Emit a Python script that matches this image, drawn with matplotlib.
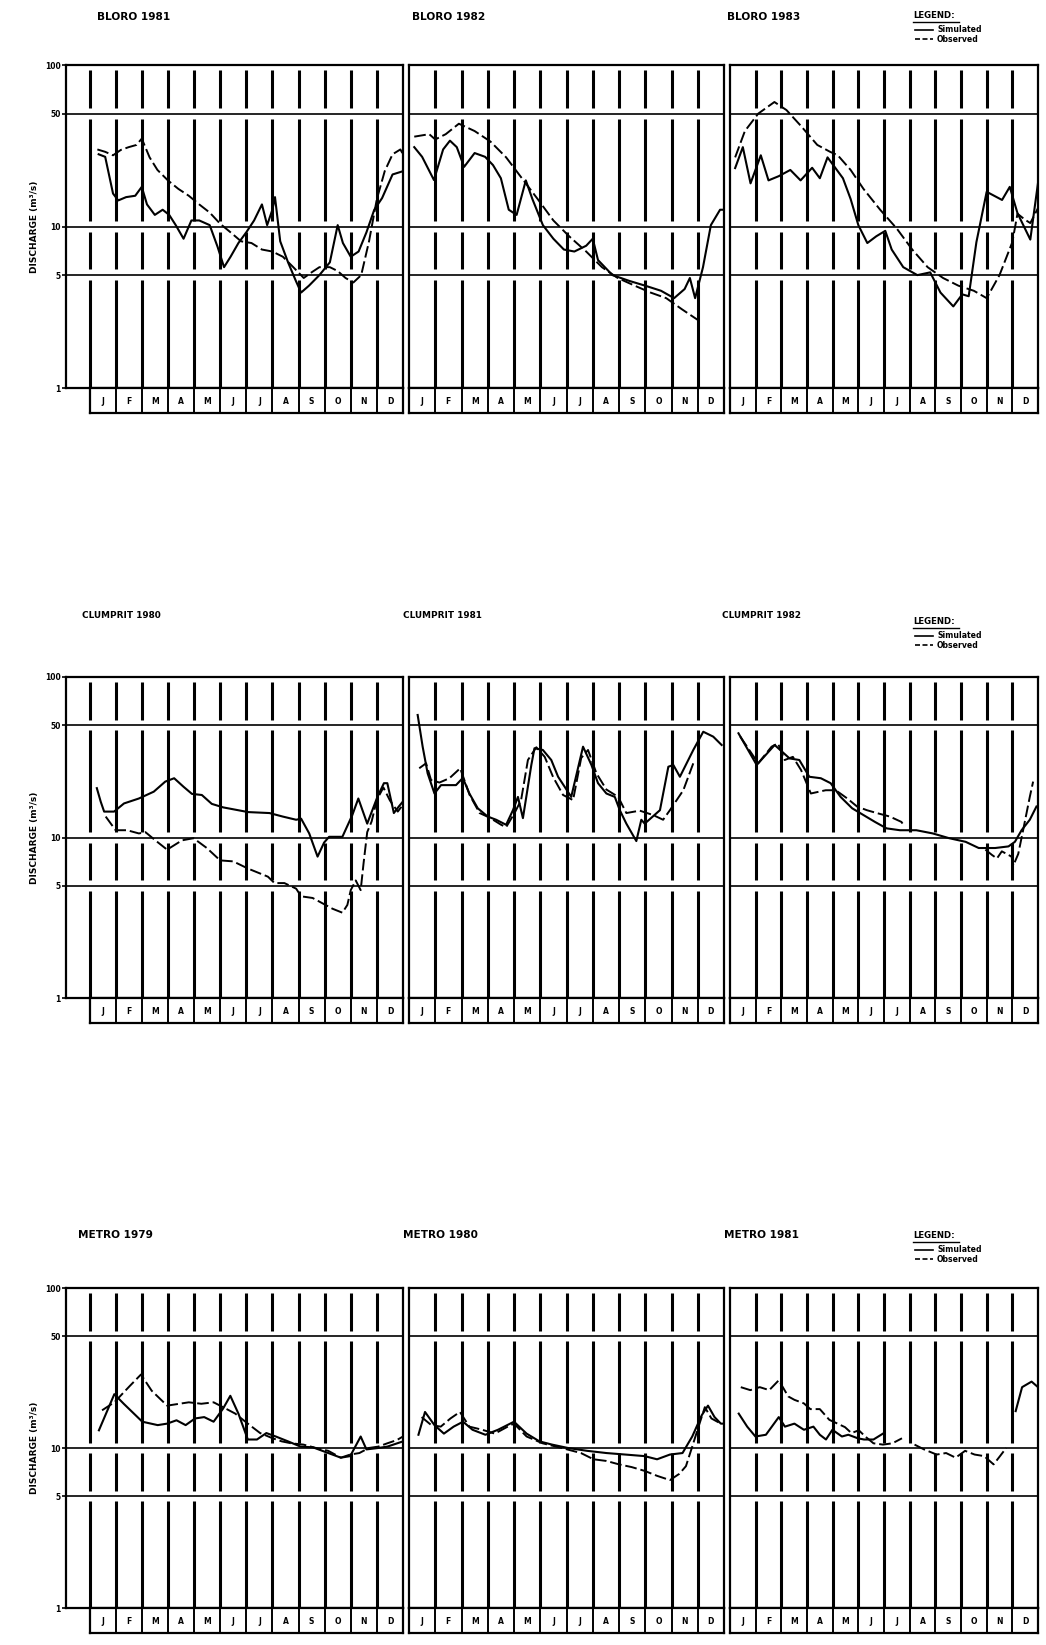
import numpy as np
import matplotlib
matplotlib.use("Agg")
import matplotlib.pyplot as plt
from matplotlib.lines import Line2D

W, H, DPI = 1046, 1645, 100

# ---------------- text / categories ----------------
months = ["J", "F", "M", "A", "M", "J", "J", "A", "S", "O", "N", "D"]
ytick_vals = [1, 5, 10, 50, 100]
ytick_labels = ["1", "5", "10", "50", "100"]
grid_vals = [5, 10, 50]
titles = [["BLORO 1981", "BLORO 1982", "BLORO 1983"],
          ["CLUMPRIT 1980", "CLUMPRIT 1981", "CLUMPRIT 1982"],
          ["METRO 1979", "METRO 1980", "METRO 1981"]]
legend_title = "LEGEND:"
legend_labels = ["Simulated", "Observed"]
ylabel = "DISCHARGE (m\u00b3/s)"
nan = float("nan")

# ---------------- data (t in months from 1 Jan, discharge in m3/s) ----------------
# BLORO 1981
b81_sim_t = [0.35, 0.6, 0.9, 1.1, 1.4, 1.75, 2.0, 2.2, 2.5, 2.8, 3.05, 3.3, 3.6, 3.9, 4.2, 4.6, 4.9, 5.15,
             5.4, 5.7, 6.0, 6.3, 6.6, 6.8, 7.0, 7.1, 7.3, 7.6, 7.9, 8.1, 8.4, 8.8, 9.2, 9.5, 9.7, 10.0,
             10.3, 10.6, 10.9, 11.2, 11.6, 12.0]
b81_sim_v = [28, 27, 16, 14.5, 15.2, 15.5, 17.6, 13.7, 11.8, 12.7, 11.8, 10.2, 8.4, 10.9, 10.9, 10.2, 7.5, 5.6,
             6.5, 7.9, 9.2, 10.9, 13.7, 10.2, 12.7, 15.2, 8.1, 6.0, 4.6, 3.9, 4.3, 5.0, 6.0, 10.2, 7.9, 6.5,
             7.0, 9.2, 12.7, 15, 21, 22]
b81_obs_t = [0.3, 0.6, 0.9, 1.2, 1.5, 1.8, 2.0, 2.3, 2.6, 3.0, 3.4, 3.8, 4.2, 4.6, 5.0, 5.4, 5.8, 6.2, 6.6,
             7.0, 7.4, 7.8, 8.2, 8.5, 8.8, 9.2, 9.5, 9.8, 10.1, 10.4, 10.7, 11.0, 11.3, 11.6, 11.9, 12.0]
b81_obs_v = [30, 29, 27.6, 29.8, 31, 32, 35, 26.8, 22.4, 19.3, 17.1, 15.5, 13.7, 12.2, 10.4, 9.2, 8.1, 7.9, 7.2,
             7.0, 6.5, 5.6, 4.8, 5.2, 5.6, 5.6, 5.3, 4.8, 4.5, 5.0, 8.1, 14.8, 22, 28, 30, 28]
# BLORO 1982
b82_sim_t = [0.2, 0.5, 0.95, 1.3, 1.56, 1.82, 2.1, 2.5, 2.9, 3.2, 3.5, 3.8, 4.1, 4.45, 4.7, 5.1, 5.5, 5.9,
             6.3, 6.75, 7.0, 7.2, 7.75, 8.4, 9.0, 9.6, 10.1, 10.5, 10.7, 10.9, 11.2, 11.5, 11.85, 12.0]
b82_sim_v = [31, 27, 19.4, 30, 34, 31, 23.4, 28.5, 27, 24, 19.9, 12.7, 11.8, 19.3, 14.8, 10.2, 8.4, 7.2,
             7.0, 7.6, 8.4, 6.2, 5.0, 4.6, 4.3, 4.0, 3.6, 4.1, 4.8, 3.6, 5.6, 10.2, 12.7, 12.7]
b82_obs_t = [0.2, 0.77, 1.0, 1.4, 1.9, 2.5, 3.1, 3.7, 4.3, 4.9, 5.5, 6.1, 6.75, 7.35, 7.95, 8.6, 9.2, 9.8,
             10.4, 11.0]
b82_obs_v = [36, 37.3, 34.6, 37.3, 43.3, 39, 33.6, 26.8, 19.9, 14.8, 10.9, 8.7, 7.0, 5.6, 4.8, 4.3, 3.9, 3.6,
             3.07, 2.64]
# BLORO 1983
b83_sim_t = [0.2, 0.5, 0.8, 1.2, 1.5, 1.9, 2.35, 2.75, 3.2, 3.5, 3.8, 4.1, 4.4, 4.7, 5.0, 5.35, 5.7, 6.05,
             6.3, 6.75, 7.3, 7.8, 8.2, 8.7, 9.05, 9.3, 9.6, 10.0, 10.6, 10.9, 11.2, 11.7, 12.0]
b83_sim_v = [23, 31, 18.5, 27.6, 19.3, 20.5, 22.4, 19.3, 23.1, 19.9, 26.8, 23.1, 19.9, 14.8, 10.2, 7.9, 8.7, 9.4,
             7.2, 5.6, 5.0, 5.2, 3.9, 3.2, 3.8, 3.7, 8.0, 16.4, 14.6, 17.6, 12.1, 8.3, 18.6]
b83_obs_t = [0.2, 0.58, 1.1, 1.73, 2.2, 2.76, 3.4, 3.9, 4.2, 4.7, 5.2, 5.85, 6.5, 7.1, 7.7, 8.3, 8.9, 9.5,
             10.0, 10.5, 11.0, 11.2, 11.5, 11.7, 12.0]
b83_obs_v = [26.8, 39, 50, 59, 52.6, 42, 32, 29, 27.6, 22.4, 17.1, 12.7, 9.7, 7.2, 5.6, 4.8, 4.3, 4.0,
             3.6, 5.0, 8.0, 12.0, 11.0, 10.5, 13.0]
# CLUMPRIT 1980
c80_sim_t = [0.28, 0.43, 0.56, 0.94, 1.32, 1.89, 2.46, 2.9, 3.24, 3.6, 3.92, 4.3, 4.68, 5.12, 6.07, 6.89, 7.4,
             7.91, 8.1, 8.41, 8.73, 8.98, 9.17, 9.68, 9.75, 10.06, 10.29, 10.63, 11.02, 11.27, 11.4, 11.65,
             11.84, 11.99]
c80_sim_v = [20.3, 16.7, 14.5, 14.5, 16.3, 17.5, 19.3, 22.3, 23.4, 20.7, 18.7, 18.4, 16.2, 15.4, 14.4, 14.2, 13.5,
             12.9, 13.1, 10.6, 7.6, 9.3, 10.1, 10.1, 10.7, 13.8, 17.5, 12.2, 17.9, 21.8, 21.8, 14.2,
             15.6, 16.7]
c80_obs_t = [0.62, 1.0, 1.44, 1.89, 2.14, 2.52, 2.97, 3.54, 3.98, 4.49, 5.0, 5.5, 6.07, 6.83, 7.08, 7.46, 7.91,
             8.1, 8.54, 9.3, 9.68, 9.87, 10.0, 10.19, 10.38, 10.49, 10.63, 10.8, 11.0, 11.25, 11.5, 11.8, 12.0]
c80_obs_v = [13.5, 11.1, 11.1, 10.6, 10.8, 9.6, 8.4, 9.6, 9.9, 8.6, 7.2, 7.1, 6.4, 5.7, 5.2, 5.2, 4.8,
             4.3, 4.2, 3.6, 3.4, 3.8, 4.7, 5.4, 4.7, 6.9, 10.8, 12.6, 17.2, 20.5, 17, 14.5, 16]
# CLUMPRIT 1981
c81_sim_t = [0.33, 0.52, 0.71, 0.97, 1.22, 1.79, 2.05, 2.3, 2.62, 3.0, 3.32, 3.7, 3.96, 4.15, 4.34, 4.66, 4.78,
             5.1, 5.42, 5.68, 5.93, 6.18, 6.63, 6.95, 7.2, 7.52, 7.84, 8.03, 8.28, 8.66, 8.85, 8.98, 9.56,
             9.88, 10.07, 10.32, 10.83, 11.21, 11.59, 11.91]
c81_sim_v = [58, 36.8, 25.1, 18.8, 21.2, 21.2, 23.5, 18.8, 15.2, 13.5, 12.9, 12.0, 14.8, 17.9, 13.2, 28.3, 36,
             35.1, 30.4, 23.9, 20.7, 17.9, 36.8, 28.3, 21.8, 18.8, 17.9, 14.8, 12.2, 9.5, 12.9, 12.2, 14.8,
             27.6, 28.3, 23.9, 35.1, 45.6, 42.5, 37.7]
c81_obs_t = [0.39, 0.65, 0.84, 1.16, 1.54, 1.95, 2.31, 2.69, 3.07, 3.51, 3.7, 4.02, 4.27, 4.53, 4.85, 5.17, 5.49,
             5.87, 6.25, 6.56, 6.82, 7.14, 7.52, 7.97, 8.28, 8.79, 9.3, 9.68, 9.94, 10.45, 10.83]
c81_obs_v = [27, 29, 22.8, 22, 23.4, 27, 18.4, 14.2, 13.3, 12.0, 11.6, 14.2, 17.1, 30.4, 36.5, 31.8, 23.8,
             18.4, 17.1, 31.3, 35.1, 25.1, 19.9, 17.9, 14.2, 14.7, 13.8, 12.9, 14.8, 19.7, 29]
# CLUMPRIT 1982
c82_sim_t = [0.33, 1.04, 1.74, 2.32, 2.7, 3.09, 3.54, 3.92, 4.31, 4.76, 5.2, 5.65, 6.1, 6.62, 7.26, 7.9, 8.54,
             9.18, 9.69, 10.33, 10.85, 11.1, 11.36, 11.68, 11.94]
c82_sim_v = [44.6, 28.3, 37.7, 31.1, 30.4, 23.9, 23.4, 21.8, 17.9, 15.2, 13.8, 12.5, 11.4, 11.1, 11.1, 10.6, 9.9,
             9.4, 8.6, 8.6, 8.8, 9.4, 11.1, 12.9, 15.6]
c82_obs_t = [0.4, 1.1, 1.62, 1.87, 2.13, 2.45, 2.77, 3.15, 3.47, 3.73, 4.12, 4.57, 4.95, 5.33, 5.72, 6.23, 6.68,
             6.8, 7.0, 9.95, 10.2, 10.4, 10.59, 10.97, 11.04, 11.23, 11.42, 11.68, 11.81]
c82_obs_v = [42.5, 29, 36.8, 38.6, 30.4, 31.8, 26.3, 18.8, 19.3, 19.7, 19.7, 17.5, 15.6, 14.8, 14.2, 13.5, 12.5,
             11.7, nan, 8.4, 7.8, 7.4, 8.2, 7.6, 6.7, 7.9, 11.1, 17.9, 22.3]
# METRO 1979
m79_sim_t = [0.36, 0.95, 1.31, 2.02, 2.61, 2.97, 3.33, 3.68, 4.04, 4.39, 4.75, 5.11, 5.39, 5.7, 6.06, 6.41, 6.77,
             7.13, 7.6, 8.08, 8.55, 9.14, 9.62, 9.98, 10.38, 10.6, 11.05, 11.4, 12.0]
m79_sim_v = [12.9, 21.7, 18.9, 14.6, 13.9, 14.2, 14.9, 13.9, 15.3, 15.6, 14.6, 17.6, 21.2, 16.4, 11.3, 11.3, 12.4,
             11.8, 11.0, 10.2, 10.1, 9.3, 8.7, 8.9, 11.8, 9.8, 10.0, 10.2, 11.0]
m79_obs_t = [0.48, 0.95, 1.54, 1.97, 2.38, 2.97, 3.44, 3.8, 4.28, 4.75, 5.11, 5.58, 6.06, 6.53, 7.01, 7.36, 7.72,
             8.19, 8.67, 9.14, 9.62, 9.98, 10.33, 10.69, 11.05, 11.4, 11.76, 12.0]
m79_obs_v = [17.2, 19.3, 24.4, 28.8, 22.8, 18.4, 18.9, 19.3, 18.9, 19.3, 18.0, 16.4, 14.2, 12.4, 11.5, 11.0, 10.7,
             10.5, 10.0, 9.6, 8.7, 9.1, 9.3, 10.0, 10.2, 10.7, 11.2, 11.8]
# METRO 1980
m80_sim_t = [0.36, 0.61, 0.97, 1.33, 1.7, 2.06, 2.42, 2.91, 3.39, 4.0, 4.48, 4.97, 5.45, 6.06, 6.79, 7.52, 8.24,
             8.97, 9.45, 9.94, 10.42, 10.79, 11.15, 11.39, 11.64, 11.88, 12.0]
m80_sim_v = [12.1, 16.8, 13.9, 12.3, 13.6, 14.6, 13.0, 12.1, 13.0, 14.6, 12.3, 11.0, 10.5, 10.0, 9.6, 9.3, 9.1,
             8.9, 8.5, 9.1, 9.3, 11.8, 16.0, 18.4, 15.6, 14.2, 14.2]
m80_obs_t = [0.48, 0.85, 1.21, 1.58, 1.94, 2.3, 2.79, 3.27, 3.76, 4.0, 4.48, 5.09, 5.82, 6.55, 7.03, 7.52, 8.0,
             8.48, 8.97, 9.45, 9.94, 10.3, 10.55, 10.79, 11.03, 11.27, 11.52, 11.88]
m80_obs_v = [15.6, 13.9, 13.6, 15.3, 16.8, 13.6, 13.0, 12.3, 13.6, 14.2, 11.8, 10.7, 10.0, 9.3, 8.5, 8.3, 7.9,
             7.6, 7.2, 6.7, 6.3, 6.9, 7.7, 10.2, 13.6, 18.0, 15.3, 14.2]
# METRO 1981
m81_sim_t = [0.34, 0.67, 0.99, 1.4, 1.9, 2.14, 2.51, 2.88, 3.25, 3.5, 3.74, 3.99, 4.36, 4.61, 4.98, 5.22, 5.59,
             5.96, 6.2, 11.13, 11.38, 11.75, 12.0]
m81_sim_v = [16.4, 13.6, 11.8, 12.1, 15.6, 13.6, 14.2, 13.0, 13.6, 12.1, 11.3, 13.0, 11.8, 12.1, 11.5, 11.3, 11.3,
             12.3, nan, 17, 24, 26, 24]
m81_obs_t = [0.42, 0.79, 1.16, 1.53, 1.9, 2.27, 2.51, 2.88, 3.13, 3.5, 3.87, 4.19, 4.48, 4.73, 5.02, 5.27, 5.59,
             5.96, 6.33, 6.7, 6.95, 7.19, 7.56, 8.05, 8.42, 8.79, 9.16, 9.53, 9.9, 10.27, 10.52, 10.76]
m81_obs_v = [24, 23, 24, 23, 26.5, 21, 20, 19, 17.5, 17.5, 15, 14.2, 13.5, 12.4, 12.9, 11.8, 10.7,
             10.5, 10.7, 11.5, nan, 10.5, 9.8, 9.1, 9.3, 8.7, 9.6, 9.1, 8.9, 7.9, 8.9, 10.0]

panels = [
    [(b81_sim_t, b81_sim_v, b81_obs_t, b81_obs_v),
     (b82_sim_t, b82_sim_v, b82_obs_t, b82_obs_v),
     (b83_sim_t, b83_sim_v, b83_obs_t, b83_obs_v)],
    [(c80_sim_t, c80_sim_v, c80_obs_t, c80_obs_v),
     (c81_sim_t, c81_sim_v, c81_obs_t, c81_obs_v),
     (c82_sim_t, c82_sim_v, c82_obs_t, c82_obs_v)],
    [(m79_sim_t, m79_sim_v, m79_obs_t, m79_obs_v),
     (m80_sim_t, m80_sim_v, m80_obs_t, m80_obs_v),
     (m81_sim_t, m81_sim_v, m81_obs_t, m81_obs_v)],
]

# ---------------- layout (pixels) ----------------
row_top = [65, 677, 1288]
row_bot = [388, 998, 1608]
label_h = 25
panel_x = [(66, 403, -0.9), (409, 724, 0.0), (730, 1038, 0.0)]
title_x = [[97, 412, 727], [82, 403, 722], [78, 403, 724]]
title_y = [17, 615, 1235]
title_fs = [7.6, 6.4, 7.6]
legend_xy = [(913, 16), (913, 622), (913, 1236)]

fig = plt.figure(figsize=(W / DPI, H / DPI), dpi=DPI)
fig.patch.set_facecolor("white")


def px_axes(x0, y0, x1, y1):
    return fig.add_axes([x0 / W, 1 - y1 / H, (x1 - x0) / W, (y1 - y0) / H])


def fx(x):
    return x / W


def fy(y):
    return 1 - y / H


# vertical month rules are broken near the horizontal rules
seg_bounds = [(0.0, 0.333), (0.367, 0.484), (0.516, 0.834), (0.866, 0.985)]
BOLD = dict(fontweight="bold", family="DejaVu Sans")

for r in range(3):
    for p in range(3):
        x0, x1, xmin = panel_x[p]
        ax = px_axes(x0, row_top[r], x1, row_bot[r])
        ax.set_yscale("log")
        ax.set_ylim(1, 100)
        ax.set_xlim(xmin, 12)
        for s in ax.spines.values():
            s.set_linewidth(1.6)
        for g in grid_vals:
            ax.axhline(g, color="black", lw=1.2, zorder=1)
        first = 0 if p == 0 else 1
        tr = ax.get_xaxis_transform()
        for k in range(first, 12):
            for a, b in seg_bounds:
                ax.plot([k, k], [a, b], transform=tr, color="black", lw=2.2,
                        solid_capstyle="butt", zorder=1)
        st, sv, ot, ov = panels[r][p]
        ax.plot(st, sv, color="black", lw=1.5, zorder=3)
        ax.plot(ot, ov, color="black", lw=1.4, dashes=(6, 2), zorder=3)
        ax.set_xticks([])
        ax.minorticks_off()
        if p == 0:
            ax.set_yticks(ytick_vals)
            ax.set_yticklabels(ytick_labels, fontsize=5.5, **BOLD)
            ax.tick_params(axis="y", length=3, width=1.2, pad=1)
        else:
            ax.set_yticks([])
        ax.yaxis.set_minor_locator(matplotlib.ticker.NullLocator())

        # month label boxes
        lx0 = x0 + (0 - xmin) / (12 - xmin) * (x1 - x0)
        lab = px_axes(lx0, row_bot[r], x1, row_bot[r] + label_h)
        lab.set_xlim(0, 12)
        lab.set_ylim(0, 1)
        lab.set_xticks([])
        lab.set_yticks([])
        for s in lab.spines.values():
            s.set_linewidth(1.6)
        for k in range(1, 12):
            lab.axvline(k, color="black", lw=1.4)
        for k, mname in enumerate(months):
            lab.text(k + 0.5, 0.45, mname, ha="center", va="center", fontsize=5.5, **BOLD)

        fig.text(fx(title_x[r][p]), fy(title_y[r]), titles[r][p], fontsize=title_fs[r],
                 ha="left", va="center", **BOLD)

    # y label
    yc = (row_top[r] + row_bot[r]) / 2
    fig.text(fx(34), fy(yc), ylabel, rotation=90, ha="center", va="center", fontsize=6.5, **BOLD)

    # legend
    lx, ly = legend_xy[r]
    fig.text(fx(lx), fy(ly), legend_title, fontsize=6.2, ha="left", va="center", **BOLD)
    fig.add_artist(Line2D([fx(lx), fx(lx + 46)], [fy(ly + 6), fy(ly + 6)], color="black", lw=1.0))
    fig.add_artist(Line2D([fx(lx + 2), fx(lx + 20)], [fy(ly + 14), fy(ly + 14)], color="black", lw=1.2))
    fig.add_artist(Line2D([fx(lx + 2), fx(lx + 20)], [fy(ly + 23), fy(ly + 23)], color="black", lw=1.2,
                          dashes=(3, 1.5)))
    fig.text(fx(lx + 24), fy(ly + 14), legend_labels[0], fontsize=5.6, ha="left", va="center", **BOLD)
    fig.text(fx(lx + 24), fy(ly + 23), legend_labels[1], fontsize=5.6, ha="left", va="center", **BOLD)

fig.savefig("out.png", dpi=DPI, facecolor="white")
